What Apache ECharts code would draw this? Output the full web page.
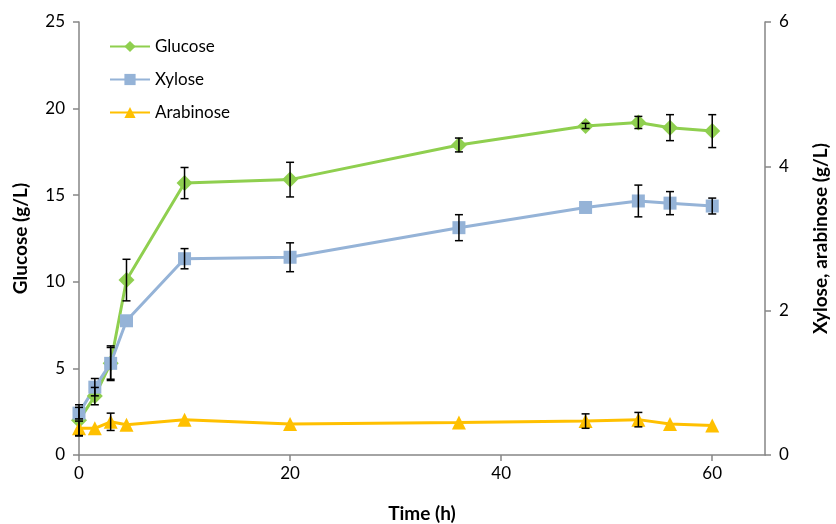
<!DOCTYPE html>
<html>
<head>
<meta charset="utf-8">
<script src="https://cdn.jsdelivr.net/npm/echarts@6/dist/echarts.min.js"></script>
<style>html,body{margin:0;padding:0;background:#fff}#c{width:836px;height:524px}</style>
</head>
<body>
<div id="c"></div>
<script>
const time = [0, 1.5, 3, 4.5, 10, 20, 36, 48, 53, 56, 60];
const glucose = [2.0, 3.4, 5.3, 10.1, 15.7, 15.9, 17.9, 19.0, 19.2, 18.9, 18.7];
const glucoseErr = [0.9, 0.5, 1.0, 1.2, 0.9, 1.0, 0.4, 0.15, 0.35, 0.75, 0.95];
const xylose = [0.58, 0.94, 1.27, 1.86, 2.72, 2.74, 3.15, 3.43, 3.52, 3.49, 3.45];
const xyloseErr = [0.08, 0.12, 0.22, 0, 0.14, 0.2, 0.18, 0, 0.22, 0.16, 0.11];
const arabinose = [0.37, 0.37, 0.46, 0.42, 0.49, 0.43, 0.45, 0.47, 0.49, 0.43, 0.41];
const arabinoseErr = [0.1, 0, 0.12, 0, 0, 0, 0, 0.1, 0.1, 0, 0];
const xTicks = [0, 20, 40, 60];

const FONT = 'Lato';
const axisGray = '#868686';

function pairs(v) { return time.map((t, i) => [t, v[i]]); }
function errData(v, e) { return time.map((t, i) => [t, v[i], e[i]]); }

function errSeries(v, e, yAxisIndex) {
  return {
    type: 'custom',
    yAxisIndex: yAxisIndex,
    z: 5,
    silent: true,
    data: errData(v, e),
    renderItem: function (params, api) {
      const err = api.value(2);
      if (!err) return null;
      const x = api.value(0), y = api.value(1);
      const top = api.coord([x, y + err]);
      const bot = api.coord([x, y - err]);
      const hw = 4;
      const st = { stroke: '#000', lineWidth: 1.5 };
      return {
        type: 'group',
        children: [
          { type: 'line', shape: { x1: top[0], y1: top[1], x2: bot[0], y2: bot[1] }, style: st },
          { type: 'line', shape: { x1: top[0] - hw, y1: top[1], x2: top[0] + hw, y2: top[1] }, style: st },
          { type: 'line', shape: { x1: bot[0] - hw, y1: bot[1], x2: bot[0] + hw, y2: bot[1] }, style: st }
        ]
      };
    }
  };
}

const chart = echarts.init(document.getElementById('c'));
chart.setOption({
  animation: false,
  textStyle: { fontFamily: FONT },
  grid: { left: 79, right: 71, top: 22, bottom: 69, containLabel: false, outerBoundsMode: 'none' },
  legend: {
    orient: 'vertical',
    left: 104,
    top: 33,
    itemWidth: 40,
    itemHeight: 14,
    itemGap: 16,
    textStyle: { fontFamily: FONT, fontSize: 17, color: '#000' },
    data: ['Glucose', 'Xylose', 'Arabinose']
  },
  xAxis: {
    type: 'value',
    min: 0, max: 65, interval: 20,
    name: 'Time (h)',
    nameLocation: 'middle',
    nameGap: 49,
    nameTextStyle: { fontFamily: FONT, fontSize: 19, fontWeight: 'bold', color: '#000' },
    axisLine: { lineStyle: { color: axisGray, width: 1.5 } },
    axisTick: { show: true, length: 6, inside: false, customValues: xTicks, lineStyle: { color: axisGray, width: 1.5 } },
    axisLabel: { customValues: xTicks, fontFamily: FONT, fontSize: 17, color: '#000', margin: 10 },
    splitLine: { show: false }
  },
  yAxis: [
    {
      type: 'value', min: 0, max: 25, interval: 5, position: 'left',
      name: 'Glucose (g/L)',
      nameLocation: 'middle', nameRotate: 90, nameGap: 49,
      nameTextStyle: { fontFamily: FONT, fontSize: 19, fontWeight: 'bold', color: '#000' },
      axisLine: { show: true, lineStyle: { color: axisGray, width: 1.5 } },
      axisTick: { show: true, length: 6, lineStyle: { color: axisGray, width: 1.5 } },
      axisLabel: { fontFamily: FONT, fontSize: 17, color: '#000', margin: 14 },
      splitLine: { show: false }
    },
    {
      type: 'value', min: 0, max: 6, interval: 2, position: 'right',
      name: 'Xylose, arabinose (g/L)',
      nameLocation: 'middle', nameRotate: 90, nameGap: 46,
      nameTextStyle: { fontFamily: FONT, fontSize: 19, fontWeight: 'bold', color: '#000' },
      axisLine: { show: true, lineStyle: { color: axisGray, width: 1.5 } },
      axisTick: { show: true, length: 6, lineStyle: { color: axisGray, width: 1.5 } },
      axisLabel: { fontFamily: FONT, fontSize: 17, color: '#000', margin: 14 },
      splitLine: { show: false }
    }
  ],
  series: [
    {
      name: 'Glucose', type: 'line', yAxisIndex: 0, data: pairs(glucose),
      symbol: 'diamond', symbolSize: 16, z: 3,
      itemStyle: { color: '#8FCF4F' },
      lineStyle: { color: '#8FCF4F', width: 3 }
    },
    {
      name: 'Xylose', type: 'line', yAxisIndex: 1, data: pairs(xylose),
      symbol: 'rect', symbolSize: 13, z: 3,
      itemStyle: { color: '#95B3D7' },
      lineStyle: { color: '#95B3D7', width: 3 }
    },
    {
      name: 'Arabinose', type: 'line', yAxisIndex: 1, data: pairs(arabinose),
      symbol: 'triangle', symbolSize: 14, z: 3,
      itemStyle: { color: '#FFC000' },
      lineStyle: { color: '#FFC000', width: 3 }
    },
    errSeries(glucose, glucoseErr, 0),
    errSeries(xylose, xyloseErr, 1),
    errSeries(arabinose, arabinoseErr, 1)
  ]
});
</script>
</body>
</html>
